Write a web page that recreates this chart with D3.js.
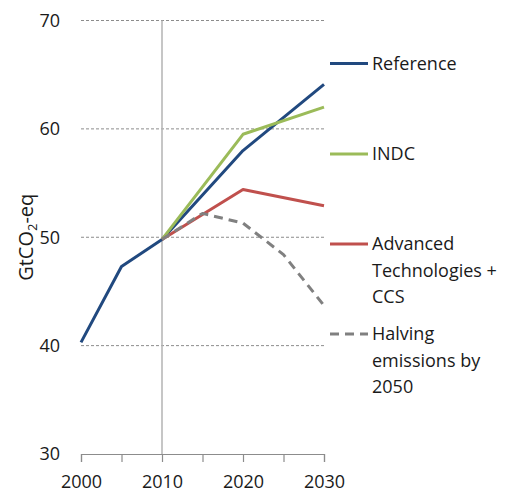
<!DOCTYPE html>
<html>
<head>
<meta charset="utf-8">
<script src="https://cdn.jsdelivr.net/npm/d3@7"></script>
<style>
  html, body { margin: 0; padding: 0; background: #fff; }
  svg { display: block; }
  text { font-family: "Open Sans", "Noto Sans", sans-serif; fill: #1a1a1a; }
</style>
</head>
<body>
<svg id="chart" width="508" height="492"></svg>
<script>
// Emissions scenarios, GtCO2-eq
const years = [2000, 2005, 2010, 2015, 2020, 2025, 2030];
const yTicks = [30, 40, 50, 60, 70];
const xTicks = [2000, 2010, 2020, 2030];

const reference = [[2000, 40.3], [2005, 47.3], [2010, 49.8], [2020, 58.0], [2030, 64.1]];
const indc = [[2010, 49.8], [2020, 59.5], [2030, 62.0]];
const advanced = [[2010, 49.8], [2020, 54.4], [2030, 52.9]];
const halving = [[2010, 49.8], [2015, 52.2], [2020, 51.3], [2025, 48.4], [2030, 43.7]];

const seriesNames = ["Reference", "INDC", "Advanced Technologies + CCS", "Halving emissions by 2050"];
const legendLines = [["Reference"], ["INDC"], ["Advanced", "Technologies +", "CCS"], ["Halving", "emissions by", "2050"]];
const seriesColors = ["#21497f", "#9bbb59", "#c0504d", "#808080"];

const svg = d3.select("#chart");
const x = d3.scaleLinear().domain([2000, 2030]).range([81, 324]);
const y = d3.scaleLinear().domain([30, 70]).range([454, 20.5]);

// horizontal dashed gridlines
svg.append("g")
  .selectAll("line")
  .data(yTicks.filter(t => t > 30))
  .join("line")
  .attr("x1", x(2000)).attr("x2", x(2030))
  .attr("y1", d => y(d)).attr("y2", d => y(d))
  .attr("stroke", "#8c8c8c")
  .attr("stroke-width", 1)
  .attr("stroke-dasharray", "3,2");

// base year marker
svg.append("line")
  .attr("x1", x(2010)).attr("x2", x(2010))
  .attr("y1", y(70)).attr("y2", y(30))
  .attr("stroke", "#b3b3b3")
  .attr("stroke-width", 1.5);

// x axis
const xAxis = d3.axisBottom(x)
  .tickValues(years)
  .tickSize(8)
  .tickFormat(d => xTicks.includes(d) ? d : "");
const gx = svg.append("g")
  .attr("transform", `translate(0,${y(30)})`)
  .call(xAxis);
gx.select(".domain").attr("stroke", "#8c8c8c").attr("stroke-width", 1.2);
gx.selectAll(".tick line").attr("stroke", "#8c8c8c").attr("stroke-width", 1.2);
gx.selectAll(".tick text")
  .attr("dy", "1.3em")
  .style("font-size", "18px")
  .style("font-family", "'Open Sans', sans-serif")
  .attr("fill", "#1a1a1a");

// y axis labels
const gy = svg.append("g")
  .attr("transform", `translate(${x(2000)},0)`)
  .call(d3.axisLeft(y).tickValues(yTicks).tickSize(0).tickPadding(21));
gy.select(".domain").remove();
gy.selectAll(".tick text")
  .style("font-size", "18px")
  .style("font-family", "'Open Sans', sans-serif")
  .attr("fill", "#1a1a1a");

// y axis title
const title = svg.append("text")
  .attr("transform", `translate(33,${(y(30) + y(70)) / 2}) rotate(-90)`)
  .attr("text-anchor", "middle")
  .style("font-size", "20px");
title.append("tspan").text("GtCO");
title.append("tspan").text("2").attr("dy", "4").style("font-size", "13px");
title.append("tspan").text("-eq").attr("dy", "-4");

// series lines
const line = d3.line().x(d => x(d[0])).y(d => y(d[1]));
const data = [reference, indc, advanced, halving];
const order = [0, 1, 2, 3];
svg.append("g")
  .selectAll("path")
  .data(order)
  .join("path")
  .attr("d", i => line(data[i]))
  .attr("fill", "none")
  .attr("stroke", i => seriesColors[i])
  .attr("stroke-width", 3)
  .attr("stroke-linejoin", "round")
  .attr("stroke-dasharray", i => i === 3 ? "9,6" : null);

// legend
const legendY = [63.5, 154, 244, 334];
const lg = svg.append("g")
  .selectAll("g")
  .data(seriesNames)
  .join("g")
  .attr("transform", (d, i) => `translate(330,${legendY[i]})`);
lg.append("line")
  .attr("x1", 0).attr("x2", 38)
  .attr("stroke", (d, i) => seriesColors[i])
  .attr("stroke-width", 3)
  .attr("stroke-dasharray", (d, i) => i === 3 ? "9,6" : null);
lg.each(function (d, i) {
  const t = d3.select(this).append("text")
    .attr("x", 42)
    .attr("y", 0)
    .style("font-size", "18px");
  legendLines[i].forEach((s, k) => {
    t.append("tspan").attr("x", 42).attr("dy", k === 0 ? "0.35em" : "26.5").text(s);
  });
});
</script>
</body>
</html>
